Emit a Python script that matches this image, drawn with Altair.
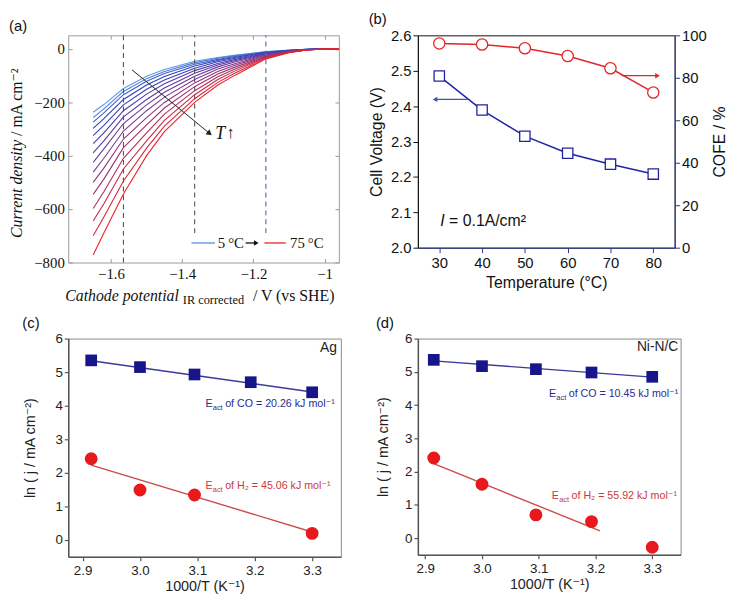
import math
import altair as alt
import pandas as pd

SANS = "Liberation Sans, Arial, DejaVu Sans"
SERIF = "Liberation Serif, DejaVu Serif"

# ---------------- (a) polarisation curves ----------------
temps_a = [5, 10, 15, 20, 25, 30, 35, 40, 45, 50, 55, 60, 65, 70, 75]
potentials_a = [-1.65, -1.62, -1.565, -1.5, -1.45, -1.365, -1.3, -1.25, -1.165, -1.1, -1.05, -1.0, -0.96]
j_at_1650 = [-238, -258, -275, -298, -325, -355, -390, -425, -462, -500, -545, -598, -645, -700, -772]
j_at_1620 = [-209, -225, -240, -262, -287, -315, -345, -375, -410, -447, -488, -535, -580, -630, -690]
j_at_1565 = [-149, -160, -172, -190, -210, -232, -255, -280, -308, -338, -370, -410, -450, -495, -544]
j_at_1500 = [-103, -112, -122, -136, -152, -170, -190, -210, -232, -258, -285, -315, -345, -372, -400]
j_at_1450 = [-78, -85, -93, -104, -117, -131, -147, -163, -181, -201, -222, -245, -268, -290, -310]
j_at_1365 = [-47, -52, -58, -65, -73, -82, -92, -103, -115, -128, -142, -157, -172, -187, -201]
j_at_1300 = [-33, -36, -40, -44, -49, -55, -61, -68, -76, -85, -95, -105, -115, -126, -136]
j_at_1250 = [-24, -26, -29, -32, -36, -40, -44, -49, -55, -61, -68, -75, -82, -90, -98]
j_at_1165 = [-11, -12, -13, -14, -16, -18, -20, -22, -24, -27, -29, -31, -33, -36, -38]
j_at_1100 = [-5, -5.5, -6, -6.5, -7, -7.5, -8, -9, -10, -11, -12, -13, -13.5, -14, -15]
j_at_1050 = [-2, -2.2, -2.4, -2.6, -2.8, -3, -3.2, -3.4, -3.6, -3.8, -4, -4.3, -4.6, -4.8, -5]
j_at_1000 = [-0.5, -0.5, -0.6, -0.6, -0.6, -0.7, -0.7, -0.8, -0.8, -0.8, -0.9, -0.9, -1, -1, -1]
j_at_0960 = [0, 0, 0, 0, 0, 0, 0, 0, 0, 0, 0, 0, 0, 0, 0]
j_columns = [j_at_1650, j_at_1620, j_at_1565, j_at_1500, j_at_1450, j_at_1365, j_at_1300,
             j_at_1250, j_at_1165, j_at_1100, j_at_1050, j_at_1000, j_at_0960]

dash_E = [-1.565, -1.365, -1.165]
dash_low = [-800, -690, -690]
dash_high = [50, 50, 50]
dash_colors = ["#555555", "#555555", "#5565a8"]

legend_E = [-1.374, -1.169]
legend_E2 = [-1.308, -1.109]
legend_j = [-727, -727]
legend_colors = ["#4f8ee0", "#e8212a"]
legend_text_E = [-1.300, -1.097]
legend_texts = ["5\u2009°C", "75\u2009°C"]

arrow_a = {"E": -1.541, "j": -79, "E2": -1.323, "j2": -317}
t_label = {"E": -1.307, "j": -318}

# ---------------- (b) cell voltage / COFE ----------------
temps_b = [30, 40, 50, 60, 70, 80]
volt_b = [2.485, 2.389, 2.315, 2.267, 2.236, 2.208]
cofe_b = [96.2, 95.7, 93.9, 90.3, 84.5, 73.1]

# ---------------- (c) Ag / (d) Ni-N/C Arrhenius ----------------
inv_T = [2.915, 3.0, 3.095, 3.193, 3.3]
ag_co = [5.35, 5.15, 4.93, 4.70, 4.40]
ag_h2_x = [2.915, 3.0, 3.095, 3.3]
ag_h2 = [2.42, 1.49, 1.34, 0.20]
ag_co_fit = [(2.915, 5.34), (3.3, 4.41)]
ag_h2_fit = [(2.915, 2.23), (3.3, 0.24)]
ni_co = [5.36, 5.17, 5.08, 4.98, 4.85]
ni_h2 = [2.41, 1.62, 0.70, 0.50, -0.27]
ni_co_fit = [(2.915, 5.33), (3.3, 4.84)]
ni_h2_fit = [(2.915, 2.24), (3.208, 0.22)]
ag_labels = ["of CO = 20.26 kJ mol\u207b\u00b9", "of H\u2082 = 45.06 kJ mol\u207b\u00b9"]
ni_labels = ["of CO = 10.45 kJ mol\u207b\u00b9", "of H\u2082 = 55.92 kJ mol\u207b\u00b9"]


def panel_title(tag):
    return alt.TitleParams(tag, anchor="start", frame="bounds", fontSize=15,
                           fontWeight="normal", font=SANS, offset=1, color="#111")


# =====================================================================
# Panel (a)
WA, HA = 274, 230
xs_a = alt.Scale(domain=[-1.72, -0.96], nice=False, zero=False)
ys_a = alt.Scale(domain=[-800, 50], nice=False, zero=False)

rows = []
for i, t in enumerate(temps_a):
    for p, col in zip(potentials_a, j_columns):
        rows.append({"E": p, "j": col[i], "T": t})
df_curves = pd.DataFrame(rows)

# ticks drawn inward: axis pulled 4px inside the frame, ticks 4px long
a_common = dict(grid=False, domain=False, tickColor="#999999", tickSize=4, offset=-4, title=None)
ax_a_bottom = alt.Axis(orient="bottom", values=[-1.6, -1.4, -1.2, -1.0], format=".1~f",
                       labelFont=SERIF, labelFontSize=15, labelColor="#111", labelPadding=4,
                       **a_common)
ax_a_left = alt.Axis(orient="left", values=[-800, -600, -400, -200, 0], format="d",
                     labelFont=SERIF, labelFontSize=15, labelColor="#111", labelPadding=4,
                     **a_common)
ax_a_top = alt.Axis(orient="top", values=[-1.6, -1.4, -1.2, -1.0], labels=False, **a_common)
ax_a_right = alt.Axis(orient="right", values=[-800, -600, -400, -200, 0], labels=False, **a_common)


def XA(field):
    return alt.X(field, scale=xs_a, axis=ax_a_bottom)


def YA(field):
    return alt.Y(field, scale=ys_a, axis=ax_a_left)


curves = alt.Chart(df_curves).mark_line(strokeWidth=1.1).encode(
    x=XA("E:Q"), y=YA("j:Q"),
    color=alt.Color("T:Q", legend=None,
                    scale=alt.Scale(domain=[5, 20, 45, 75],
                                    range=["#5b9be8", "#2f3fc0", "#7a3a8c", "#ec2227"],
                                    interpolate="rgb")),
    detail="T:N",
)

df_dash = pd.DataFrame({"E": dash_E, "j": dash_low, "j2": dash_high, "c": dash_colors})
dashes = alt.Chart(df_dash).mark_rule(strokeDash=[5, 4], strokeWidth=1.1).encode(
    x=alt.X("E:Q", scale=xs_a, axis=ax_a_top),
    y=alt.Y("j:Q", scale=ys_a, axis=ax_a_right),
    y2="j2",
    color=alt.Color("c:N", scale=None),
)

df_leg = pd.DataFrame({"E": legend_E, "E2": legend_E2, "j": legend_j, "c": legend_colors})
leg_lines = alt.Chart(df_leg).mark_rule(strokeWidth=1.3).encode(
    x=XA("E:Q"), x2="E2", y=YA("j:Q"), color=alt.Color("c:N", scale=None))
df_leg_t = pd.DataFrame({"E": legend_text_E, "j": legend_j, "txt": legend_texts})
leg_text = alt.Chart(df_leg_t).mark_text(align="left", baseline="middle", font=SERIF,
                                         fontSize=15, color="#111").encode(
    x=XA("E:Q"), y=YA("j:Q"), text="txt:N")

df_leg_arrow = pd.DataFrame({"E": [-1.222], "E2": [-1.192], "j": [-727]})
leg_arrow = alt.Chart(df_leg_arrow).mark_rule(strokeWidth=1.3, color="#111").encode(
    x=XA("E:Q"), x2="E2", y=YA("j:Q"))
leg_head = alt.Chart(df_leg_arrow).mark_point(shape="triangle-right", filled=True, size=30,
                                              color="#111", opacity=1).encode(
    x=XA("E2:Q"), y=YA("j:Q"))

df_arrow = pd.DataFrame([arrow_a])
px_per_E = WA / 0.76
px_per_j = HA / 850.0
ang = math.degrees(math.atan2((arrow_a["j"] - arrow_a["j2"]) * px_per_j,
                              (arrow_a["E2"] - arrow_a["E"]) * px_per_E))
arrow_line = alt.Chart(df_arrow).mark_rule(strokeWidth=1.0, color="#222").encode(
    x=XA("E:Q"), x2="E2", y=YA("j:Q"), y2="j2")
arrow_head = alt.Chart(df_arrow).mark_point(shape="triangle-right", filled=True, size=40,
                                            color="#222", opacity=1, angle=ang).encode(
    x=XA("E2:Q"), y=YA("j2:Q"))

df_T = pd.DataFrame([t_label])
t_text = alt.Chart(df_T).mark_text(align="left", baseline="middle", font=SERIF, fontSize=18,
                                   fontStyle="italic", color="#111").encode(
    x=XA("E:Q"), y=YA("j:Q"), text=alt.value("T"))
t_up = alt.Chart(df_T).mark_text(align="left", baseline="middle", font=SERIF, fontSize=17,
                                 fontWeight="bold", dx=11, dy=-1, color="#111").encode(
    x=XA("E:Q"), y=YA("j:Q"), text=alt.value("\u2191"))

one = pd.DataFrame({"k": [0]})
split_y = HA * 0.46
yt1 = alt.Chart(one).mark_text(angle=270, align="right", baseline="middle", font=SERIF,
                               fontSize=16, fontStyle="italic", color="#111").encode(
    x=alt.value(-52), y=alt.value(split_y), text=alt.value("Current density"))
yt2 = alt.Chart(one).mark_text(angle=270, align="left", baseline="middle", font=SERIF,
                               fontSize=16, color="#111").encode(
    x=alt.value(-52), y=alt.value(split_y - 4), text=alt.value("/ mA cm\u207b\u00b2"))
xt1 = alt.Chart(one).mark_text(align="right", baseline="middle", font=SERIF, fontSize=16,
                               fontStyle="italic", color="#111").encode(
    x=alt.value(112), y=alt.value(HA + 34), text=alt.value("Cathode potential"))
xt2 = alt.Chart(one).mark_text(align="left", baseline="middle", font=SERIF, fontSize=12.5,
                               color="#111").encode(
    x=alt.value(116), y=alt.value(HA + 38), text=alt.value("IR corrected"))
xt3 = alt.Chart(one).mark_text(align="left", baseline="middle", font=SERIF, fontSize=16,
                               color="#111").encode(
    x=alt.value(187), y=alt.value(HA + 34), text=alt.value("/ V (vs SHE)"))

panel_a = alt.layer(
    alt.layer(curves, leg_lines, leg_text, leg_arrow, leg_head, arrow_line, arrow_head,
              t_text, t_up),
    dashes, yt1, yt2, xt1, xt2, xt3,
).properties(width=WA, height=HA, view=alt.ViewBackground(stroke="#9a9a9a"),
             title=panel_title("(a)"))

# =====================================================================
# Panel (b)
WB, HB = 260, 215
BLUE = "#2323a0"
RED = "#e4262a"
AXNAVY = "#2b3590"
xs_b = alt.Scale(domain=[25, 85], nice=False, zero=False)
ys_v = alt.Scale(domain=[2.0, 2.6], nice=False, zero=False)
ys_c = alt.Scale(domain=[0, 100], nice=False, zero=False)
b_common = dict(grid=False, tickSize=5, labelFontSize=15, titleFontSize=16, labelColor="#111",
                titleColor="#111", titleFontWeight="normal", labelFont=SANS, titleFont=SANS)
ax_b_x = alt.Axis(orient="bottom", values=temps_b, title="Temperature  (°C)", labelPadding=3,
                  titlePadding=4, domainColor=AXNAVY, tickColor=AXNAVY, **b_common)
ax_b_v = alt.Axis(orient="left", values=[2.0, 2.1, 2.2, 2.3, 2.4, 2.5, 2.6], format=".1f",
                  title="Cell Voltage (V)", titlePadding=6, labelPadding=2,
                  domainColor="#111", tickColor="#111", **b_common)
ax_b_c = alt.Axis(orient="right", values=[0, 20, 40, 60, 80, 100], title="COFE / %",
                  titleAngle=270, titleBaseline="top", titlePadding=5, labelPadding=2,
                  domainColor=AXNAVY, tickColor=AXNAVY, **b_common)


def XB(field):
    return alt.X(field, scale=xs_b, axis=ax_b_x)


def YV(field):
    return alt.Y(field, scale=ys_v, axis=ax_b_v)


def YC(field):
    return alt.Y(field, scale=ys_c, axis=ax_b_c)


df_b = pd.DataFrame({"t": temps_b, "v": volt_b, "c": cofe_b})
v_line = alt.Chart(df_b).mark_line(color=BLUE, strokeWidth=1.5).encode(x=XB("t:Q"), y=YV("v:Q"))
v_pts = alt.Chart(df_b).mark_point(shape="square", filled=True, fill="white", stroke=BLUE,
                                   strokeWidth=1.3, size=110, opacity=1).encode(
    x=XB("t:Q"), y=YV("v:Q"))
df_barrow_v = pd.DataFrame({"t": [36.6], "t2": [29.0], "v": [2.419]})
v_arrow = alt.Chart(df_barrow_v).mark_rule(color="#3f55b0", strokeWidth=1.3).encode(
    x=XB("t:Q"), x2="t2", y=YV("v:Q"))
v_head = alt.Chart(df_barrow_v).mark_point(shape="triangle-left", filled=True, size=30,
                                           color="#3f55b0", opacity=1).encode(
    x=XB("t2:Q"), y=YV("v:Q"))
df_itext = pd.DataFrame({"t": [30.2, 32.3], "v": [2.075, 2.075],
                         "txt": ["I", "= 0.1A/cm\u00b2"]})
i_text1 = alt.Chart(df_itext.iloc[[0]]).mark_text(align="left", baseline="middle", fontSize=16,
                                                   fontStyle="italic", font=SANS, color="#111").encode(
    x=XB("t:Q"), y=YV("v:Q"), text="txt:N")
i_text2 = alt.Chart(df_itext.iloc[[1]]).mark_text(align="left", baseline="middle", fontSize=16,
                                                   font=SANS, color="#111").encode(
    x=XB("t:Q"), y=YV("v:Q"), text="txt:N")

c_line = alt.Chart(df_b).mark_line(color=RED, strokeWidth=1.5).encode(x=XB("t:Q"), y=YC("c:Q"))
c_pts = alt.Chart(df_b).mark_point(shape="circle", filled=True, fill="white", stroke=RED,
                                   strokeWidth=1.3, size=130, opacity=1).encode(
    x=XB("t:Q"), y=YC("c:Q"))
df_barrow_c = pd.DataFrame({"t": [72.6], "t2": [81.0], "c": [81.0]})
c_arrow = alt.Chart(df_barrow_c).mark_rule(color=RED, strokeWidth=1.3).encode(
    x=XB("t:Q"), x2="t2", y=YC("c:Q"))
c_head = alt.Chart(df_barrow_c).mark_point(shape="triangle-right", filled=True, size=30,
                                           color=RED, opacity=1).encode(
    x=XB("t2:Q"), y=YC("c:Q"))

panel_b = alt.layer(
    alt.layer(v_line, v_pts, v_arrow, v_head, i_text1, i_text2),
    alt.layer(c_line, c_pts, c_arrow, c_head),
).resolve_scale(y="independent").properties(
    width=WB, height=HB, view=alt.ViewBackground(stroke="#111"), title=panel_title("(b)"))


# =====================================================================
# Panels (c), (d)
NAVY = "#16168a"
NAVY_T = "#2b2b8f"
RED2 = "#e8191c"
RED_T = "#c83a3a"


def arrhenius_panel(tag, W, H, xdom, co_y, h2_x, h2_y, co_fit, h2_fit, labels,
                    co_lbl_pos, h2_lbl_pos, name, name_pos, ytitle_pad):
    xs = alt.Scale(domain=xdom, nice=False, zero=False)
    ys = alt.Scale(domain=[-0.5, 6.0], nice=False, zero=False)
    k_common = dict(grid=False, domain=True, domainColor="#555", domainWidth=1.5,
                    tickColor="#555", tickSize=4, tickWidth=1.2,
                    labelFontSize=13.5, titleFontSize=14.5, labelColor="#222", titleColor="#222",
                    titleFontWeight="normal", labelFont=SANS, titleFont=SANS)
    ax_x = alt.Axis(orient="bottom", values=[2.9, 3.0, 3.1, 3.2, 3.3], format=".1f",
                    title="1000/T (K\u207b\u00b9)", labelPadding=3, titlePadding=3, **k_common)
    ax_y = alt.Axis(orient="left", values=[0, 1, 2, 3, 4, 5, 6], format="d",
                    title="ln ( j / mA cm\u207b\u00b2)", titlePadding=ytitle_pad, **k_common)

    def XK(f):
        return alt.X(f, scale=xs, axis=ax_x)

    def YK(f):
        return alt.Y(f, scale=ys, axis=ax_y)

    df_co = pd.DataFrame({"x": inv_T, "y": co_y})
    df_h2 = pd.DataFrame({"x": h2_x, "y": h2_y})
    df_fit = pd.DataFrame({"x": [co_fit[0][0], h2_fit[0][0]], "y": [co_fit[0][1], h2_fit[0][1]],
                           "x2": [co_fit[1][0], h2_fit[1][0]], "y2": [co_fit[1][1], h2_fit[1][1]],
                           "c": ["#3a3a98", "#cc4a4a"]})
    fits = alt.Chart(df_fit).mark_rule(strokeWidth=1.4).encode(
        x=XK("x:Q"), y=YK("y:Q"), x2="x2", y2="y2", color=alt.Color("c:N", scale=None))
    co_pts = alt.Chart(df_co).mark_point(shape="square", filled=True, size=140, color=NAVY,
                                         opacity=1).encode(x=XK("x:Q"), y=YK("y:Q"))
    h2_pts = alt.Chart(df_h2).mark_point(shape="circle", filled=True, size=170, color=RED2,
                                         opacity=1).encode(x=XK("x:Q"), y=YK("y:Q"))
    df_lbl = pd.DataFrame({"x": [co_lbl_pos[0], h2_lbl_pos[0]],
                           "y": [co_lbl_pos[1], h2_lbl_pos[1]],
                           "rest": labels, "c": [NAVY_T, RED_T]})
    e_main = alt.Chart(df_lbl).mark_text(align="left", baseline="middle", fontSize=10.8,
                                         font=SANS).encode(
        x=XK("x:Q"), y=YK("y:Q"), text=alt.value("E"), color=alt.Color("c:N", scale=None))
    e_sub = alt.Chart(df_lbl).mark_text(align="left", baseline="middle", fontSize=7.5,
                                        font=SANS, dx=7.5, dy=4).encode(
        x=XK("x:Q"), y=YK("y:Q"), text=alt.value("act"), color=alt.Color("c:N", scale=None))
    e_rest = alt.Chart(df_lbl).mark_text(align="left", baseline="middle", fontSize=10.8,
                                         font=SANS, dx=20).encode(
        x=XK("x:Q"), y=YK("y:Q"), text="rest:N", color=alt.Color("c:N", scale=None))
    df_name = pd.DataFrame({"x": [name_pos[0]], "y": [name_pos[1]], "n": [name]})
    name_t = alt.Chart(df_name).mark_text(align="right", baseline="middle", fontSize=14,
                                          font=SANS, color="#222").encode(
        x=XK("x:Q"), y=YK("y:Q"), text="n:N")
    return alt.layer(fits, co_pts, h2_pts, e_main, e_sub, e_rest, name_t).properties(
        width=W, height=H, view=alt.ViewBackground(stroke="#888888"), title=panel_title(tag))


panel_c = arrhenius_panel("(c)", 276, 221, [2.875, 3.35], ag_co, ag_h2_x, ag_h2,
                          ag_co_fit, ag_h2_fit, ag_labels, (3.114, 4.04), (3.114, 1.61),
                          "Ag", (3.343, 5.71), 18)
panel_d = arrhenius_panel("(d)", 266, 219, [2.887, 3.35], ni_co, inv_T, ni_h2,
                          ni_co_fit, ni_h2_fit, ni_labels, (3.118, 4.32), (3.123, 1.28),
                          "Ni-N/C", (3.346, 5.73), 14)

chart = alt.concat(
    panel_a, panel_b, panel_c, panel_d, columns=2, align="each",
    spacing={"row": 8, "column": 26},
).properties(padding={"left": 0, "top": 0, "right": 0, "bottom": 0}).configure(
    font=SANS
).configure_view(strokeWidth=1)

chart.save("out.html", embed_options={"renderer": "svg", "actions": False})
